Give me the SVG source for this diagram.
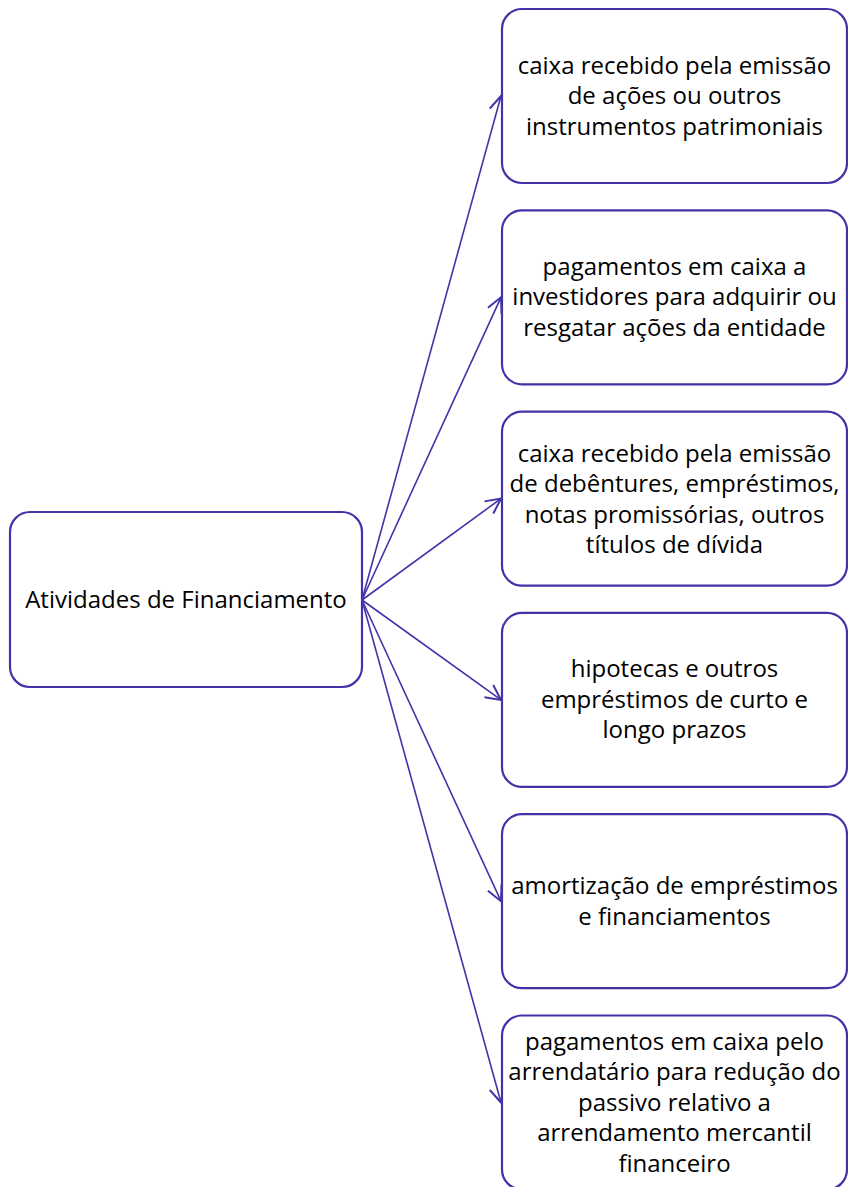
<svg xmlns="http://www.w3.org/2000/svg" width="848" height="1187" viewBox="0 0 848 1187">
<style>
.box{fill:#fff;stroke:#4034A8;stroke-width:2.2}
.t{font-family:"Open Sans","Noto Sans","Liberation Sans",sans-serif;font-size:24px;fill:#000;text-anchor:middle}
.c{fill:none;stroke:#4034A8;stroke-width:1.6}
</style>
<defs>
<marker id="arr" markerUnits="userSpaceOnUse" markerWidth="20" markerHeight="20" refX="0" refY="0" viewBox="-14 -8 16 16" orient="auto">
<path d="M-12,-6 L0,0 L-12,6" fill="none" stroke="#4034A8" stroke-width="1.6"/>
</marker>
</defs>
<rect width="848" height="1187" fill="#fff"/>
<g id="connectors">
<line class="c" x1="362" y1="600" x2="501" y2="96" marker-end="url(#arr)"/>
<line class="c" x1="362" y1="600" x2="501" y2="297.3" marker-end="url(#arr)"/>
<line class="c" x1="362" y1="600" x2="501" y2="498.6" marker-end="url(#arr)"/>
<line class="c" x1="362" y1="600" x2="501" y2="699.9" marker-end="url(#arr)"/>
<line class="c" x1="362" y1="600" x2="501" y2="901.2" marker-end="url(#arr)"/>
<line class="c" x1="362" y1="600" x2="501" y2="1102.5" marker-end="url(#arr)"/>
</g>
<g id="root">
<rect class="box" x="10" y="512" width="352" height="175" rx="20"/>
<text class="t" x="186" y="608">Atividades de Financiamento</text>
</g>
<g id="n1">
<rect class="box" x="502" y="9" width="345" height="174" rx="20"/>
<text class="t" x="674.5" y="73.5">caixa recebido pela emissão</text>
<text class="t" x="674.5" y="104">de ações ou outros</text>
<text class="t" x="674.5" y="134.5">instrumentos patrimoniais</text>
</g>
<g id="n2">
<rect class="box" x="502" y="210.3" width="345" height="174" rx="20"/>
<text class="t" x="674.5" y="274.8">pagamentos em caixa a</text>
<text class="t" x="674.5" y="305.3">investidores para adquirir ou</text>
<text class="t" x="674.5" y="335.8">resgatar ações da entidade</text>
</g>
<g id="n3">
<rect class="box" x="502" y="411.6" width="345" height="174" rx="20"/>
<text class="t" x="674.5" y="461.9">caixa recebido pela emissão</text>
<text class="t" x="674.5" y="492.4">de debêntures, empréstimos,</text>
<text class="t" x="674.5" y="522.9">notas promissórias, outros</text>
<text class="t" x="674.5" y="553.4">títulos de dívida</text>
</g>
<g id="n4">
<rect class="box" x="502" y="612.9" width="345" height="174" rx="20"/>
<text class="t" x="674.5" y="677.4">hipotecas e outros</text>
<text class="t" x="674.5" y="707.9">empréstimos de curto e</text>
<text class="t" x="674.5" y="738.4">longo prazos</text>
</g>
<g id="n5">
<rect class="box" x="502" y="814.2" width="345" height="174" rx="20"/>
<text class="t" x="674.5" y="894">amortização de empréstimos</text>
<text class="t" x="674.5" y="924.5">e financiamentos</text>
</g>
<g id="n6">
<rect class="box" x="502" y="1015.5" width="345" height="174" rx="20"/>
<text class="t" x="674.5" y="1049.5">pagamentos em caixa pelo</text>
<text class="t" x="674.5" y="1080">arrendatário para redução do</text>
<text class="t" x="674.5" y="1110.5">passivo relativo a</text>
<text class="t" x="674.5" y="1141">arrendamento mercantil</text>
<text class="t" x="674.5" y="1171.5">financeiro</text>
</g>
</svg>
